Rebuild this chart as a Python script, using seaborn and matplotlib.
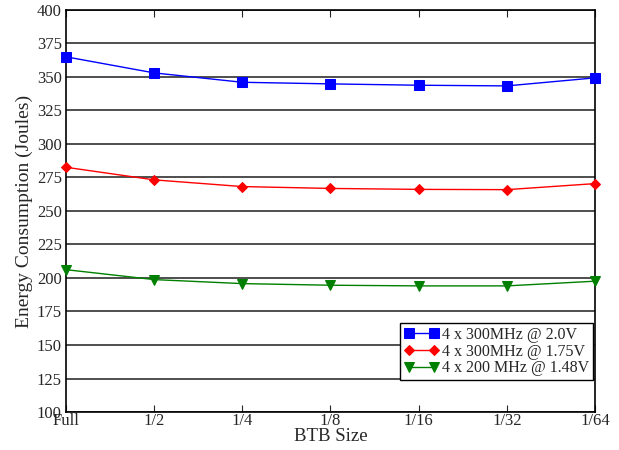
import matplotlib
matplotlib.use('Agg')
import matplotlib.pyplot as plt
import seaborn as sns
import pandas as pd

# 数据
btb_sizes = ['Full', '1/2', '1/4', '1/8', '1/16', '1/32', '1/64']
energy_300_20 = [365.0, 353.0, 346.0, 344.8, 343.8, 343.3, 349.3]
energy_300_175 = [282.6, 273.2, 268.2, 266.8, 266.1, 265.9, 270.4]
energy_200_148 = [206.2, 198.8, 195.8, 194.6, 194.1, 194.1, 197.6]
series_labels = ['4 x 300MHz @ 2.0V', '4 x 300MHz @ 1.75V', '4 x 200 MHz @ 1.48V']
y_ticks = [100, 125, 150, 175, 200, 225, 250, 275, 300, 325, 350, 375, 400]

sns.set_style('white')
plt.rcParams['font.family'] = ['Liberation Serif', 'DejaVu Serif']

df = pd.DataFrame({
    'pos': list(range(len(btb_sizes))) * 3,
    'energy': energy_300_20 + energy_300_175 + energy_200_148,
    'series': [s for s in series_labels for _ in btb_sizes],
})

fig = plt.figure(figsize=(6.19, 4.5), dpi=100)
ax = fig.add_axes([0.1066, 0.0844, 0.8546, 0.8936])

styles = {
    series_labels[0]: ('blue', 's', 6.5),
    series_labels[1]: ('red', 'D', 5.5),
    series_labels[2]: ('green', 'v', 7),
}

for name in series_labels:
    color, marker, ms = styles[name]
    sub = df[df['series'] == name]
    sns.lineplot(x='pos', y='energy', data=sub, ax=ax, color=color,
                 marker=marker, markersize=ms, markeredgecolor=color,
                 linewidth=1, label=name, sort=False, zorder=3, clip_on=False)

# 网格线（只画水平线）
ax.set_ylim(100, 400)
ax.set_xlim(0, len(btb_sizes) - 1)
ax.set_yticks(y_ticks)
ax.set_yticklabels([str(t) for t in y_ticks])
ax.set_xticks(range(len(btb_sizes)))
ax.set_xticklabels(btb_sizes)
ax.yaxis.grid(True, color='0.25', linewidth=1.3)
ax.xaxis.grid(False)
ax.set_axisbelow(True)

ax.tick_params(axis='x', direction='in', length=5, width=0.8, top=True,
               bottom=True, pad=1, labelsize=12)
ax.tick_params(axis='y', direction='in', length=0, pad=3, labelsize=12)

for sp in ax.spines.values():
    sp.set_color('black')
    sp.set_linewidth(1.2)

ax.set_xlabel('BTB Size', fontsize=13.5, labelpad=-1)
ax.set_ylabel('Energy Consumption (Joules)', fontsize=14, labelpad=3)

leg = ax.legend(loc='upper right', bbox_to_anchor=(0.997, 0.222), fontsize=11.5,
                frameon=True, fancybox=False, borderpad=0.25, labelspacing=0.05,
                handlelength=2.2, handletextpad=0.2, borderaxespad=0, numpoints=2)
leg.get_frame().set_edgecolor('black')
leg.get_frame().set_linewidth(1.0)
leg.get_frame().set_alpha(1)
leg.set_zorder(5)

plt.savefig('out.png', dpi=100)
plt.close()
